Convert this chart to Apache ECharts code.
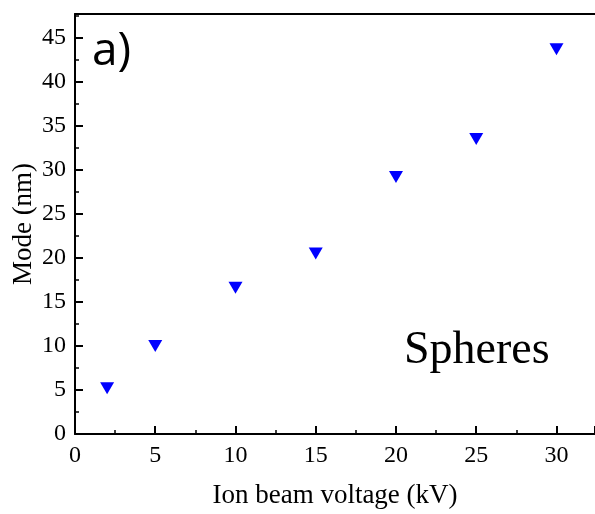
<!DOCTYPE html>
<html>
<head>
<meta charset="utf-8">
<script src="https://cdn.jsdelivr.net/npm/echarts@6/dist/echarts.min.js"></script>
<style>
  html, body { margin: 0; padding: 0; background: #fff; }
  #chart { width: 595px; height: 514px; }
</style>
</head>
<body>
<div id="chart"></div>
<script>
// ion beam voltage (kV) and mode size (nm)
const voltage = [2, 5, 10, 15, 20, 25, 30];
const modeNm = [5.2, 10.0, 16.6, 20.5, 29.2, 33.5, 43.7];

const serif = '"Liberation Serif", "Times New Roman", serif';

const chart = echarts.init(document.getElementById('chart'));
const axisCommon = {
    axisLine: { show: true, onZero: false, lineStyle: { color: '#000', width: 2 } },
    axisTick: { show: true, inside: true, length: 8, lineStyle: { color: '#000', width: 2 } },
    minorTick: { show: true, splitNumber: 2, length: 4, lineStyle: { color: '#000', width: 1.5 } },
    splitLine: { show: false },
    axisLabel: { color: '#000', fontSize: 24, fontFamily: serif, showMaxLabel: false },
    nameTextStyle: { color: '#000', fontSize: 27, fontFamily: serif },
    nameMoveOverlap: false
};

chart.setOption({
    animation: false,
    grid: { left: 75, right: 0, top: 14, bottom: 80, outerBoundsMode: 'none', containLabel: false },
    xAxis: [
        Object.assign({}, axisCommon, {
            type: 'value',
            min: 0,
            max: 32.4,
            interval: 5,
            axisLabel: Object.assign({}, axisCommon.axisLabel, { margin: 10 }),
            name: 'Ion beam voltage (kV)',
            nameLocation: 'middle',
            nameGap: 48
        }),
        {
            type: 'value',
            position: 'top',
            min: 0,
            max: 32.4,
            axisLine: { show: true, onZero: false, lineStyle: { color: '#000', width: 2 } },
            axisTick: { show: false },
            axisLabel: { show: false },
            splitLine: { show: false }
        }
    ],
    yAxis: Object.assign({}, axisCommon, {
        type: 'value',
        min: 0,
        max: 47.7,
        interval: 5,
        axisLabel: Object.assign({}, axisCommon.axisLabel, { margin: 9 }),
        name: 'Mode (nm)',
        nameLocation: 'middle',
        nameRotate: 90,
        nameGap: 38
    }),
    graphic: [
        {
            type: 'text',
            left: 92,
            top: 29,
            style: { text: 'a)', fontSize: 46, fontFamily: '"Open Sans", "DejaVu Sans", sans-serif', fill: '#000' }
        },
        {
            type: 'text',
            left: 404,
            top: 328,
            style: { text: 'Spheres', fontSize: 46, fontFamily: serif, fill: '#000' }
        }
    ],
    series: [
        {
            type: 'scatter',
            symbol: 'triangle',
            symbolRotate: 180,
            symbolSize: [14, 12],
            itemStyle: { color: '#0000ff', opacity: 1 },
            data: voltage.map((v, i) => [v, modeNm[i]])
        }
    ]
});
</script>
</body>
</html>
